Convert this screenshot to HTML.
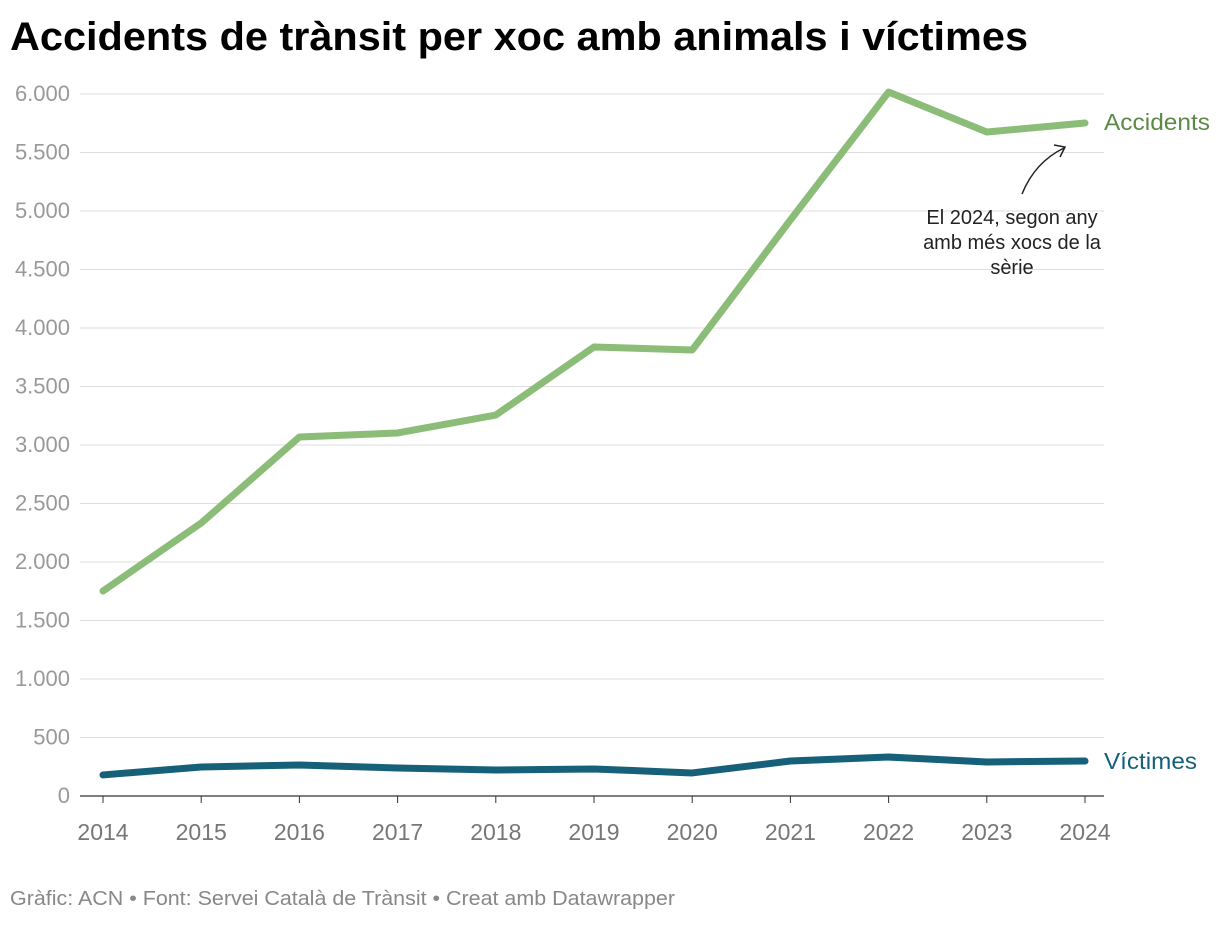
<!DOCTYPE html>
<html><head><meta charset="utf-8"><style>
body{margin:0;background:#fff;font-family:"Liberation Sans",sans-serif;}
svg text{font-family:"Liberation Sans",sans-serif;}
</style></head><body>
<svg width="1220" height="922">
<text x="10" y="50" font-size="40" font-weight="bold" fill="#000" textLength="1018" lengthAdjust="spacingAndGlyphs">Accidents de trànsit per xoc amb animals i víctimes</text>
<g id="grid"></g><g id="xaxis"></g><g id="lines"></g>
<text x="1104" y="130" font-size="23" fill="#5b8a45" textLength="106" lengthAdjust="spacingAndGlyphs">Accidents</text>
<text x="1104" y="769" font-size="23" fill="#17607a" textLength="93" lengthAdjust="spacingAndGlyphs">Víctimes</text>
<g font-size="20" fill="#222" text-anchor="middle">
<text x="1012" y="224">El 2024, segon any</text>
<text x="1012" y="249">amb més xocs de la</text>
<text x="1012" y="274">sèrie</text>
<path d="M1022,194 Q1035,162 1064,148" fill="none" stroke="#222" stroke-width="1.5"/>
<path d="M1054,145 L1065,147 L1060,157" fill="none" stroke="#222" stroke-width="1.5"/>
</g>
<text x="10" y="905" font-size="20" fill="#888" textLength="665" lengthAdjust="spacingAndGlyphs">Gràfic: ACN • Font: Servei Català de Trànsit • Creat amb Datawrapper</text>
</svg>
<script>
const years=[2014,2015,2016,2017,2018,2019,2020,2021,2022,2023,2024];
const accidents=[1752,2333,3068,3103,3256,3838,3812,4923,6017,5675,5752];
const victimes=[180,248,265,239,222,231,197,299,333,291,299];
const yTicks=[0,500,1000,1500,2000,2500,3000,3500,4000,4500,5000,5500,6000];
const yLabels=["0","500","1.000","1.500","2.000","2.500","3.000","3.500","4.000","4.500","5.000","5.500","6.000"];
const NS="http://www.w3.org/2000/svg";
const yS=v=>796-v*0.117;
const xS=y=>103+(y-2014)*98.2;
const grid=document.getElementById('grid');
yTicks.forEach((t,i)=>{
 const l=document.createElementNS(NS,'line');
 l.setAttribute('x1',80);l.setAttribute('x2',1104);l.setAttribute('y1',yS(t));l.setAttribute('y2',yS(t));
 l.setAttribute('stroke',t===0?'#333':'#ddd');l.setAttribute('stroke-width',t===0?1.3:1);
 
 
 grid.appendChild(l);
 const tx=document.createElementNS(NS,'text');
 tx.setAttribute('x',70);tx.setAttribute('y',yS(t)+7);tx.setAttribute('text-anchor','end');
 tx.setAttribute('font-size',22);tx.setAttribute('fill','#999');tx.textContent=yLabels[i];
 
 
 grid.appendChild(tx);
});
const xa=document.getElementById('xaxis');
years.forEach(y=>{
 const l=document.createElementNS(NS,'line');
 l.setAttribute('x1',xS(y));l.setAttribute('x2',xS(y));l.setAttribute('y1',796);l.setAttribute('y2',803);
 l.setAttribute('stroke','#333');
 
 
 xa.appendChild(l);
 const tx=document.createElementNS(NS,'text');
 tx.setAttribute('x',xS(y));tx.setAttribute('y',840);tx.setAttribute('text-anchor','middle');
 tx.setAttribute('font-size',23);tx.setAttribute('fill','#777');tx.textContent=y;
 
 
 xa.appendChild(tx);
});
const lines=document.getElementById('lines');
function line(vals,color,name){
 const p=document.createElementNS(NS,'polyline');
 p.setAttribute('points',vals.map((v,i)=>xS(years[i])+','+yS(v)).join(' '));
 p.setAttribute('fill','none');p.setAttribute('stroke',color);p.setAttribute('stroke-width',7);
 p.setAttribute('stroke-linejoin','round');p.setAttribute('stroke-linecap','round');
 
 
 lines.appendChild(p);
}
line(accidents,'#8bbd78','accidents-line');
line(victimes,'#17607a','victimes-line');
</script>
</body></html>
